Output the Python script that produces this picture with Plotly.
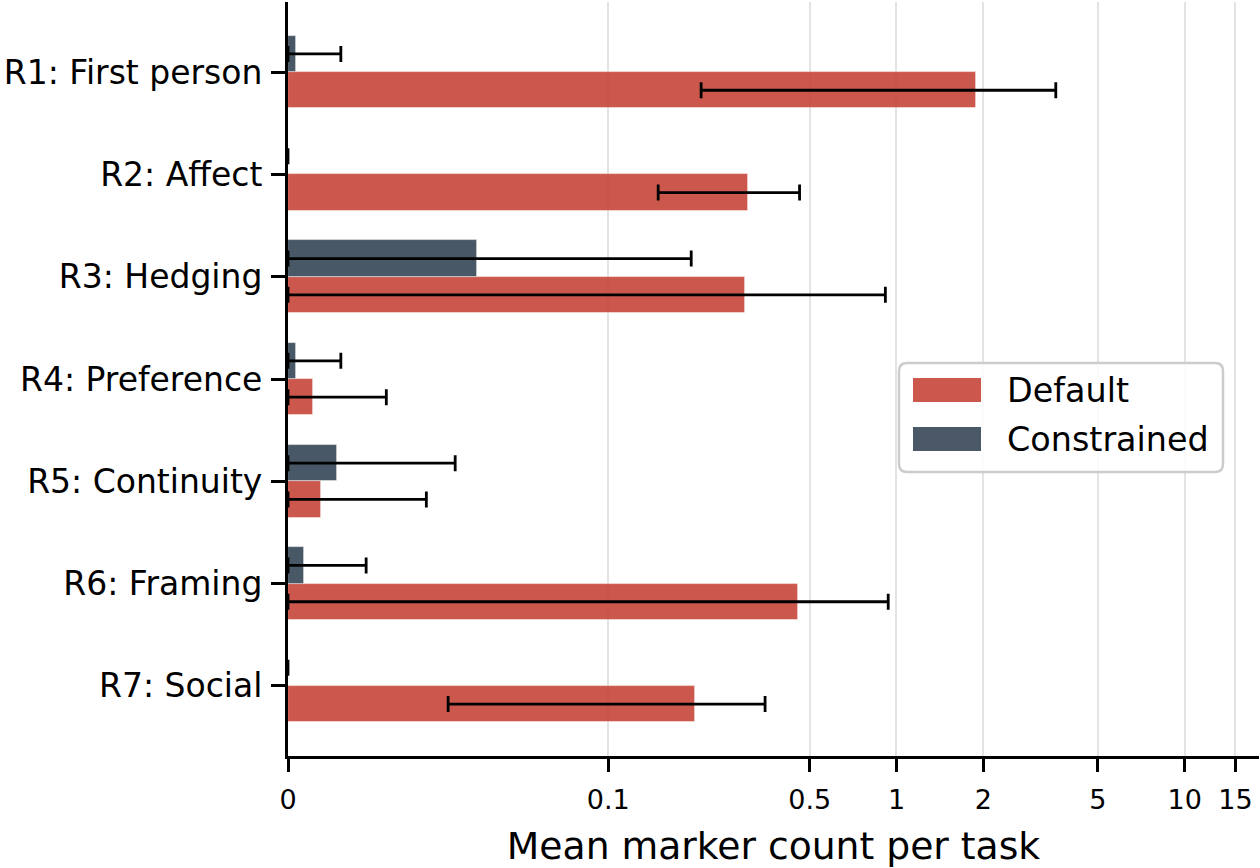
import numpy as np
import plotly.graph_objects as go

# ---- data ----
categories = ["R1: First person", "R2: Affect", "R3: Hedging", "R4: Preference",
              "R5: Continuity", "R6: Framing", "R7: Social"]
default_mean = [1.89, 0.305, 0.298, 0.0077, 0.0102, 0.457, 0.200]
default_sd = [1.68, 0.156, 0.617, 0.023, 0.033, 0.479, 0.150]
constrained_mean = [0.0025, 0.0, 0.059, 0.0025, 0.0154, 0.005, 0.0]
constrained_sd = [0.014, 0.0, 0.135, 0.014, 0.0368, 0.0194, 0.0]
tick_values = [0, 0.1, 0.5, 1, 2, 5, 10, 15]
tick_labels = ["0", "0.1", "0.5", "1", "2", "5", "10", "15"]
x_max = 18.1

# ---- symlog scale (linthresh 0.1, base 10, linscale 1) ----
LINTHRESH = 0.1
LINSCALE_ADJ = 1.0 / (1.0 - 1.0 / 10.0)


def symlog(v):
    v = np.asarray(v, dtype=float)
    a = np.abs(v)
    out = np.where(a <= LINTHRESH, a / LINTHRESH * LINSCALE_ADJ,
                   LINSCALE_ADJ + np.log10(np.maximum(a, LINTHRESH) / LINTHRESH))
    return np.sign(v) * out


def err_arrays(mean, sd):
    m = np.asarray(mean, float)
    s = np.asarray(sd, float)
    up = symlog(m + s) - symlog(m)
    lo = symlog(m) - symlog(np.maximum(m - s, 0))
    return up, lo


RED = "rgb(199,70,58)"
SLATE = "rgb(54,70,86)"
FONT = "DejaVu Sans"

idx = np.arange(len(categories))
BW = 0.355

fig = go.Figure()

for name, mean, sd, col, off in [("Default", default_mean, default_sd, RED, BW / 2),
                                  ("Constrained", constrained_mean, constrained_sd, SLATE, -BW / 2)]:
    up, lo = err_arrays(mean, sd)
    fig.add_trace(go.Bar(
        name=name, orientation="h",
        x=symlog(mean), y=idx + off, width=BW,
        marker=dict(color=col, opacity=0.9, line=dict(color="rgba(255,255,255,0.6)", width=0.8)),
        error_x=dict(type="data", symmetric=False, array=up, arrayminus=lo,
                     color="black", thickness=2.8, width=8),
        showlegend=False,
        customdata=np.array(mean),
        hovertemplate=name + ": %{customdata}<extra></extra>",
    ))

W_PLOT = 1260 - 288 - 1
H_PLOT = 754
ML, MT = 288, 2


def px(xp):
    return (xp - ML) / W_PLOT


def py(yp):
    return 1 - (yp - MT) / H_PLOT


fig.update_layout(
    width=1260, height=868,
    margin=dict(l=ML, r=1, t=MT, b=868 - MT - H_PLOT),
    plot_bgcolor="white", paper_bgcolor="white",
    font=dict(family=FONT, color="black"),
    bargap=0, barmode="overlay",
    xaxis=dict(
        range=[0, float(symlog(x_max))],
        tickmode="array", tickvals=symlog(tick_values).tolist(), ticktext=tick_labels,
        tickfont=dict(size=27, family=FONT),
        ticks="outside", ticklen=13, tickwidth=2.5, tickcolor="black",
        ticklabelstandoff=5, automargin=False,
        showline=True, linecolor="black", linewidth=3,
        showgrid=True, gridcolor="#e3e3e3", gridwidth=1.6,
        zeroline=False,
        title=dict(text="Mean marker count per task", font=dict(size=37.7, family=FONT), standoff=24),
    ),
    yaxis=dict(
        range=[6.685, -0.685],
        tickmode="array", tickvals=idx.tolist(), ticktext=categories,
        tickfont=dict(size=33, family=FONT),
        ticks="outside", ticklen=14, tickwidth=2.5, tickcolor="black",
        ticklabelstandoff=2, automargin=False,
        showline=True, linecolor="black", linewidth=3,
        showgrid=False, zeroline=False,
    ),
)

# ---- legend (drawn) ----
x0, x1, y0, y1, r = 899, 1223, 363, 472, 8
path = (f"M {px(x0 + r)},{py(y0)} L {px(x1 - r)},{py(y0)} Q {px(x1)},{py(y0)} {px(x1)},{py(y0 + r)} "
        f"L {px(x1)},{py(y1 - r)} Q {px(x1)},{py(y1)} {px(x1 - r)},{py(y1)} "
        f"L {px(x0 + r)},{py(y1)} Q {px(x0)},{py(y1)} {px(x0)},{py(y1 - r)} "
        f"L {px(x0)},{py(y0 + r)} Q {px(x0)},{py(y0)} {px(x0 + r)},{py(y0)} Z")
fig.add_shape(type="path", xref="paper", yref="paper", path=path,
              fillcolor="rgba(255,255,255,0.85)", line=dict(color="#cccccc", width=2.5))
legend_items = [("Default", RED, 378, 402, 390), ("Constrained", SLATE, 427, 451, 439)]
for label, col, ya, yb, yc in legend_items:
    fig.add_shape(type="rect", xref="paper", yref="paper",
                  x0=px(913), x1=px(981), y0=py(ya), y1=py(yb),
                  fillcolor=col, opacity=0.9, line=dict(width=0))
    fig.add_annotation(xref="paper", yref="paper", x=px(1005), y=py(yc),
                       text=label, showarrow=False, xanchor="left", yanchor="middle",
                       font=dict(size=33.4, family=FONT, color="black"))

fig.write_html("out.html")
